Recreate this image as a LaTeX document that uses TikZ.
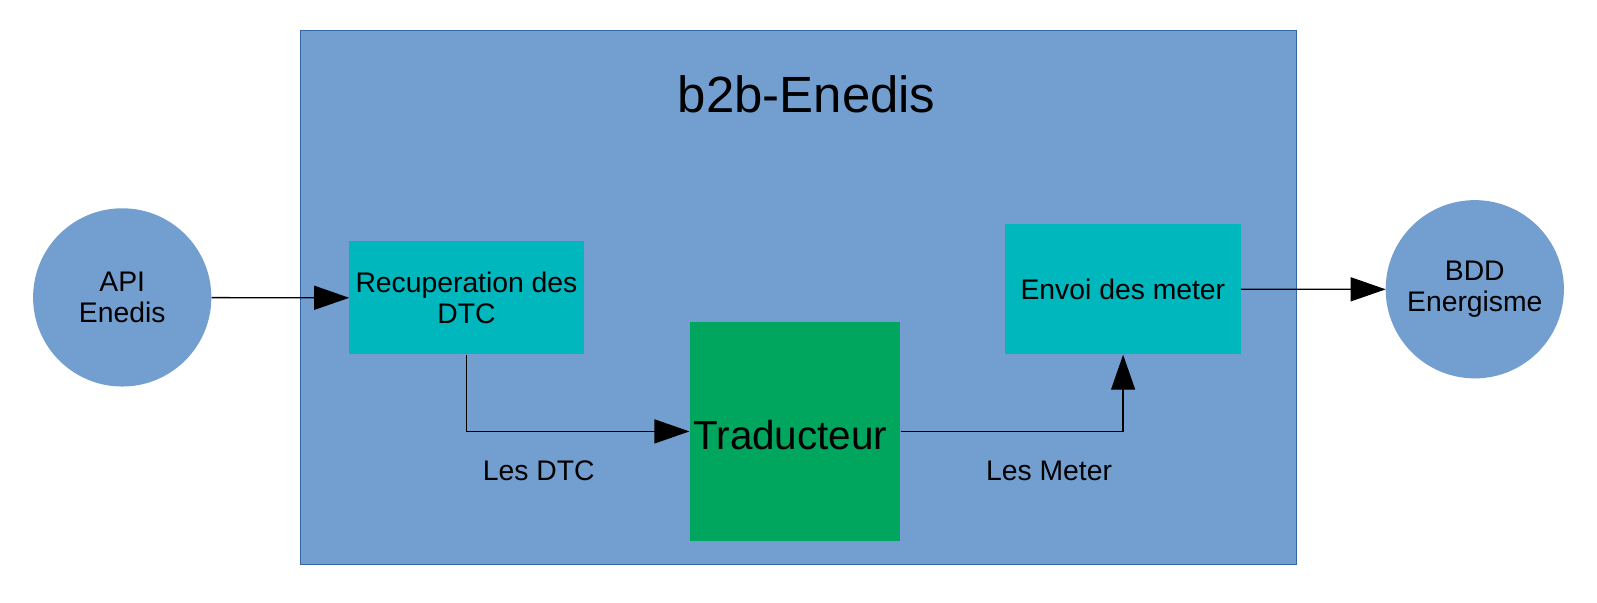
\documentclass[tikz,border=0pt]{standalone}
\usepackage{fontspec}
\setmainfont{Liberation Sans}
\usetikzlibrary{arrows.meta}
\definecolor{bgblue}{HTML}{729FCF}
\definecolor{edgeblue}{HTML}{3465A4}
\definecolor{teal}{HTML}{00B7BD}
\definecolor{vert}{HTML}{00A65D}
\tikzset{
  txt/.style={font=\fontsize{27.8}{31}\selectfont, align=center, inner sep=0pt},
  rond/.style={circle, fill=bgblue, minimum size=175pt, txt},
  boite/.style={rectangle, fill=teal, txt},
  fleche/.style={-{Triangle[length=35pt,width=24pt]}, line width=1.3pt}
}
\begin{document}
\begin{tikzpicture}[x=1pt,y=-1pt,scale=1.0185,every node/.append style={transform shape}]
        \useasboundingbox (0,0) rectangle (1568,592);
        \fill[white] (0,0) rectangle (1568,592);
        
        \draw[edgeblue, fill=bgblue, line width=1.3pt] (295,30) rectangle (1273,554);
        \node[font=\fontsize{50}{60}\selectfont] (titre) at (792,93) {b2b-Enedis};
        
        \node[rond] (api) at (120,292) {API\\Enedis};
        \node[rond] (bdd) at (1448,284) {BDD\\Energisme};
        
        \node[boite, minimum width=230pt, minimum height=111pt] (recup) at (458,292.5) {Recuperation des\\DTC};
        \node[boite, minimum width=231pt, minimum height=128pt] (envoi) at (1102.5,284) {Envoi des meter};
        \node[rectangle, fill=vert, minimum width=207pt, minimum height=215pt, inner sep=0pt] (trad) at (780.5,423.5) {};
        \node[font=\fontsize{39.7}{45}\selectfont, inner sep=0pt] (tradtxt) at (776,427) {Traducteur};
        
        \node[txt] (dtc) at (529,462) {Les DTC};
        \node[txt] (meter) at (1030,462) {Les Meter};
        
        \draw[fleche] (api) -- (recup);
        \draw[fleche] (recup.south) |- (trad.west);
        \draw[fleche] (trad.east) -| (envoi.south);
        \draw[fleche] (envoi) -- (bdd);
      \end{tikzpicture}
\end{document}
